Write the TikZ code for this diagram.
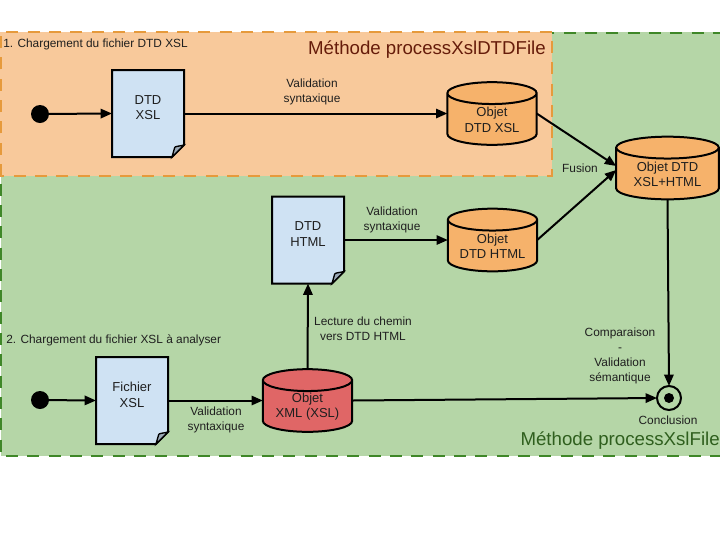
\documentclass[tikz,border=0pt]{standalone}
\usepackage{fontspec}
\setmainfont{Liberation Sans}
\usetikzlibrary{arrows.meta,shapes.geometric,calc}
\definecolor{greenbg}{HTML}{B5D6A7}
\definecolor{greenln}{HTML}{3F8728}
\definecolor{orangebg}{HTML}{F8C99B}
\definecolor{orangeln}{HTML}{E69A3C}
\definecolor{docblue}{HTML}{CFE2F3}
\definecolor{cylorange}{HTML}{F6B26B}
\definecolor{cylred}{HTML}{E06666}
\definecolor{titlered}{HTML}{661C0A}
\definecolor{titlegreen}{HTML}{2F5F1E}
\tikzset{
  txt/.style={font=\fontsize{8.9}{11.2}\selectfont,align=center,inner sep=0pt,text=black!88},
  title/.style={font=\fontsize{14}{16}\selectfont,inner sep=0pt},
  docbox/.style={minimum width=54pt,minimum height=65.25pt,inner sep=0pt,outer sep=0pt,align=center,font=\fontsize{9.75}{11.8}\selectfont,text=black!88},
  docline/.style={draw=black,fill=docblue,line width=1.5pt,line join=miter},
  foldline/.style={draw=black,fill=black!25!docblue,line width=1pt},
  cyl/.style={cylinder,shape border rotate=90,aspect=0.4,draw=black,line width=1.5pt,minimum width=67pt,minimum height=47pt,inner sep=0pt,outer sep=0pt,align=center,anchor=shape center,font=\fontsize{9.75}{11.5}\selectfont,text=black!88},
  startdot/.style={circle,fill=black,minimum size=13.5pt,inner sep=0pt,outer sep=0pt},
  enddot/.style={circle,draw=black,fill=none,line width=1.5pt,minimum size=18pt,inner sep=0pt,outer sep=0pt},
  link/.style={draw=black,line width=1.5pt,-{Triangle[length=8.5pt,width=7pt]}}
}
\newcommand{\foldeddoc}[1]{%
  \path[docline] (#1.north west) -- (#1.north east) -- ($(#1.south east)+(0,9pt)$) -- ($(#1.south east)+(-9pt,0)$) -- (#1.south west) -- cycle;
  \path[foldline] ($(#1.south east)+(0,9pt)$) .. controls ($(#1.south east)+(-4pt,8pt)$) and ($(#1.south east)+(-7pt,8pt)$) .. ($(#1.south east)+(-7pt,7pt)$) -- ($(#1.south east)+(-9pt,0)$) -- cycle;
}
\newcommand{\cyltext}[2]{\mbox{}\\[-4pt]\makebox[41pt]{#1}\\\makebox[41pt]{#2}}
\begin{document}
\begin{tikzpicture}[x=0.75pt,y=-0.75pt]
\useasboundingbox (0,0) rectangle (720,540);
\fill[white] (0,0) rectangle (720,540);
\fill[greenbg] (1,32) rectangle (725,456);
\draw[greenln,line width=1.5pt,dash pattern=on 9pt off 7pt] (725,33) -- (1,33) -- (1,456) -- (725,456);
\fill[orangebg] (0,32) rectangle (552,176);
\draw[orangeln,line width=1.5pt,dash pattern=on 9pt off 7pt] (1,176) -- (1,32) -- (552,32) -- (552,176) -- (0,176);

\node[title,text=titlered,anchor=east] (t1) at (546,50) {Méthode processXslDTDFile};
\node[title,text=titlegreen,anchor=east] (t2) at (720,441) {Méthode processXslFile};
\node[txt,anchor=west] (s1) at (3,44) {1. Chargement du fichier DTD XSL};
\node[txt,anchor=west] (s2) at (6,340) {2. Chargement du fichier XSL à analyser};

\node[startdot] (st1) at (40,114) {};
\node[startdot] (st2) at (40,400) {};

\node[docbox] (d1) at (148,113.5) {};
\node[docbox] (d2) at (308,240) {};
\node[docbox] (d3) at (132,400.5) {};
\foldeddoc{d1}\foldeddoc{d2}\foldeddoc{d3}
\node[docbox] at (d1) {DTD\\XSL\\[-3pt]\mbox{}};
\node[docbox] at (d2) {DTD\\HTML\\[-3pt]\mbox{}};
\node[docbox] at (d3) {Fichier\\XSL\\[-3pt]\mbox{}};

\node[cyl,fill=cylorange] (c1) at (492,113.5) {\cyltext{Objet}{DTD XSL}};
\node[cyl,fill=cylorange] (c2) at (492.5,240) {\cyltext{Objet}{DTD HTML}};
\node[cyl,fill=cylorange,minimum width=77pt] (c3) at (667.5,168) {\cyltext{Objet DTD}{XSL+HTML}};
\node[cyl,fill=cylred] (c4) at (307.5,400.5) {\cyltext{Objet}{XML (XSL)}};

\node[enddot] (e) at (669,398) {};
\node[circle,fill=black,minimum size=7.5pt,inner sep=0pt] (ei) at (e) {};

\draw[link] (st1) -- (d1.west);
\draw[link] (d1.east) -- (c1.west |- c1.shape center);
\draw[link] (c1.east |- c1.shape center) -- ($(c3.west |- c3.shape center)+(0,-2)$);
\draw[link] (c2.east |- c2.shape center) -- ($(c3.west |- c3.shape center)+(0,2)$);
\draw[link] (d2.east) -- (c2.west |- c2.shape center);
\draw[link] (st2) -- (d3.west);
\draw[link] (d3.east) -- (c4.west |- c4.shape center);
\draw[link] (c4.north) -- (d2.south);
\draw[link] (c3.south) -- (e.north);
\draw[link] (c4.east |- c4.shape center) -- (e.west);

\node[txt] (l1) at (312,92) {Validation\\syntaxique};
\node[txt] (l2) at (392,220) {Validation\\syntaxique};
\node[txt] (l3) at (216,420) {Validation\\syntaxique};
\node[txt] (l4) at (580,168) {Fusion};
\node[txt] (l5) at (363,328.5) {Lecture du chemin\\vers DTD HTML};
\node[txt] (l6) at (620,356) {Comparaison\\-\\Validation\\sémantique};
\node[txt] (l7) at (668,420) {Conclusion};
\end{tikzpicture}
\end{document}
